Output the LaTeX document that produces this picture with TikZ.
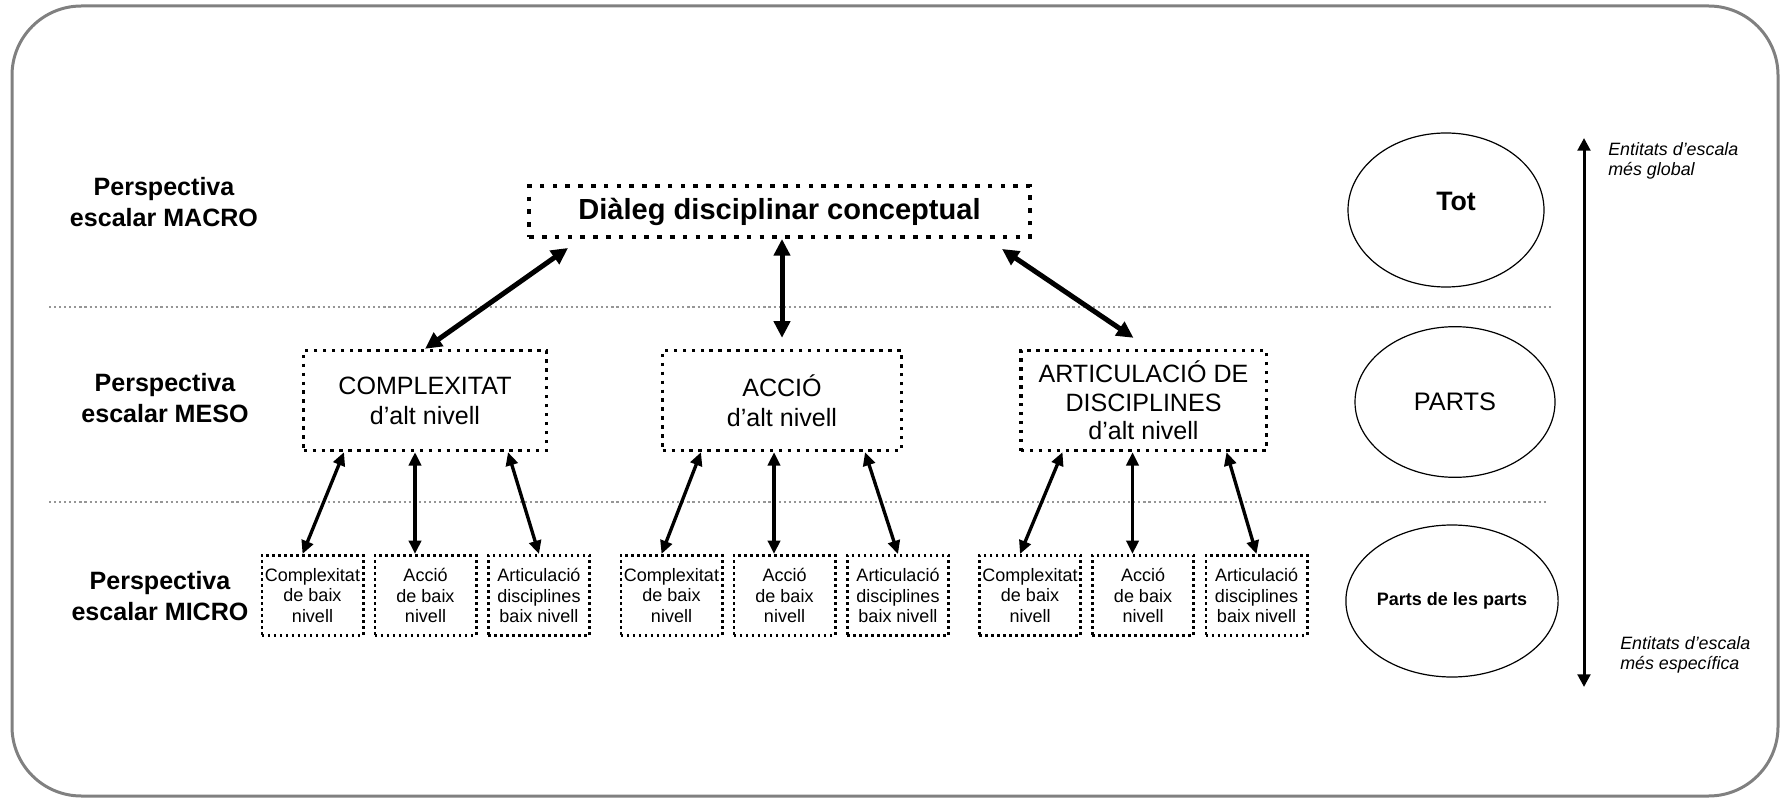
\documentclass[tikz,border=0pt]{standalone}
\usepackage{fontspec}
\setmainfont{Liberation Sans}
\usetikzlibrary{arrows.meta,calc,shapes.geometric}
\definecolor{framegray}{RGB}{128,128,128}
\definecolor{sepgray}{RGB}{150,150,150}
\begin{document}
\begin{tikzpicture}[x=0.75pt,y=-0.75pt,
  frame/.style={draw=framegray, line width=2.25pt, rounded corners=52pt},
  separator/.style={draw=sepgray, line width=1.5pt, dash pattern=on 1.6pt off 2.2pt},
  topbox/.style={draw, line width=3.2pt, dash pattern=on 3.4pt off 6.2pt,
    inner sep=0pt, minimum width=375.5pt, minimum height=38pt,
    font=\fontsize{21.8pt}{26pt}\selectfont\bfseries},
  mesobox/.style={draw, line width=2.5pt, dash pattern=on 2.6pt off 4.1pt,
    inner sep=0pt, minimum height=75pt, align=center,
    font=\fontsize{18.8pt}{22.5pt}\selectfont},
  microbox/.style={draw, line width=2pt, dash pattern=on 1.9pt off 2.6pt,
    inner sep=0pt, minimum width=76pt, minimum height=60.2pt, align=center,
    font=\fontsize{13.5pt}{15.3pt}\selectfont},
  levellabel/.style={inner sep=0pt, align=center,
    font=\fontsize{18.8pt}{23.25pt}\selectfont\bfseries},
  scaleellipse/.style={draw, ellipse, line width=0.9pt, inner sep=0pt},
  sidetext/.style={inner sep=0pt, align=left,
    font=\fontsize{13.4pt}{15.5pt}\selectfont\itshape},
  bigarrow/.style={line width=3.75pt,
    {Triangle[length=12.5pt,width=12pt]}-{Triangle[length=12.5pt,width=12pt]}},
  smallarrow/.style={line width=2.5pt,
    {Triangle[length=10pt,width=9pt]}-{Triangle[length=10pt,width=9pt]}},
  scalearrow/.style={line width=2.25pt,
    {Triangle[length=9.5pt,width=9.5pt]}-{Triangle[length=9.5pt,width=9.5pt]}}
]
\useasboundingbox (0,0) rectangle (1781,798);

% outer frame
\draw[frame] (12,6) rectangle (1778,796);

% level separators
\coordinate (sepA1) at (49,307);  \coordinate (sepA2) at (1552,307);
\coordinate (sepB1) at (49,502);  \coordinate (sepB2) at (1548,502);
\draw[separator] (sepA1) -- (sepA2);
\draw[separator] (sepB1) -- (sepB2);

% level labels
\node[levellabel] (lmacro) at (164,202) {Perspectiva\\escalar MACRO};
\node[levellabel] (lmeso)  at (165,398) {Perspectiva\\escalar MESO};
\node[levellabel] (lmicro) at (160,596) {Perspectiva\\escalar MICRO};

% macro level
\node[topbox] (top) at (779.5,211.5) {Diàleg disciplinar conceptual};

% meso level
\node[mesobox, minimum width=182pt] (m1) at (425,400.5) {COMPLEXITAT\\d’alt nivell};
\node[mesobox, minimum width=179pt] (m2) at (782,400.5) {ACCIÓ\\d’alt nivell};
\node[mesobox, minimum width=184pt, font=\fontsize{18.8pt}{21.5pt}\selectfont]
  (m3) at (1143.5,400.5) {ARTICULACIÓ DE\\DISCIPLINES\\d’alt nivell};

% micro level
\foreach \i/\x in {1/312.5, 2/671.5, 3/1030} {
  \node[microbox] (s\i1) at (\x,595.5) {Complexitat\\de baix\\nivell};
  \node[microbox] (s\i2) at (\x+113,595.5) {Acció\\de baix\\nivell};
  \node[microbox] (s\i3) at (\x+226.5,595.5) {Articulació\\disciplines\\baix nivell};
}

% macro -- meso connectors
\draw[bigarrow] ($(top.south)+(-211.5,9)$) -- (m1.north);
\coordinate (c2) at ($(m2.north)+(0,-11)$);
\draw[bigarrow] (c2 |- top.south) -- (c2);
\draw[bigarrow] ($(top.south)+(222.5,10)$) -- ($(m3.north)+(-10,-11)$);

% meso -- micro connectors
\foreach \i in {1,2,3} {
  \draw[smallarrow] ($(m\i.south)+(-81,0)$) -- ($(s\i1.north)+(-10,0)$);
  \coordinate (d\i) at ($(s\i2.north)+(-10.5,0)$);
  \draw[smallarrow] (d\i |- m\i.south) -- (d\i);
  \draw[smallarrow] ($(m\i.south)+(83,0)$) -- (s\i3.north);
}

% scale ellipses
\node[scaleellipse, minimum width=147pt, minimum height=115.5pt] (etot) at (1446,210) {};
\node[inner sep=0pt, font=\fontsize{20pt}{24pt}\selectfont\bfseries] (ttot) at (1456,201) {Tot};
\node[scaleellipse, minimum width=150pt, minimum height=113pt,
  font=\fontsize{19pt}{23pt}\selectfont] (eparts) at (1455,402) {PARTS};
\node[scaleellipse, minimum width=146pt, minimum height=114pt,
  font=\fontsize{13.5pt}{16pt}\selectfont\bfseries] (epp) at (1452,601) {Parts de les parts};

% scale direction arrow
\coordinate (vtop) at (1584,138);
\coordinate (vbot) at (1584,687);
\draw[scalearrow] (vbot) -- (vtop);
\node[sidetext, anchor=north west] (glob) at (1608,142) {Entitats d’escala\\més global};
\node[sidetext, anchor=north west] (spec) at (1620,636) {Entitats d’escala\\més específica};
\end{tikzpicture}
\end{document}
